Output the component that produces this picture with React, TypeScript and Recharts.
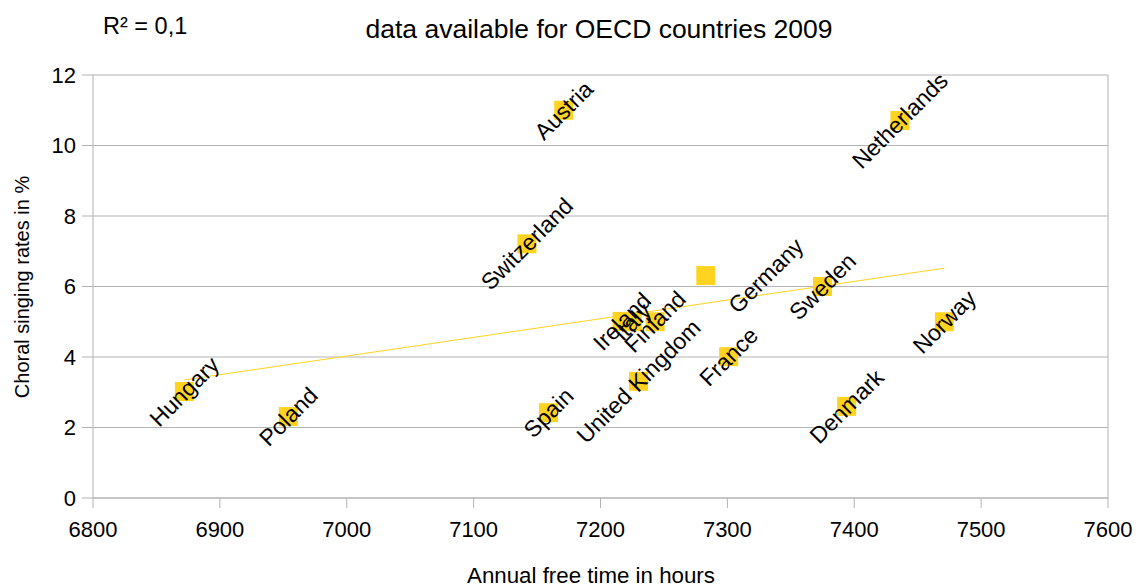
import { ScatterChart, Scatter, XAxis, YAxis, CartesianGrid, ReferenceLine } from "recharts";

const countries = ["Hungary", "Poland", "Switzerland", "Spain", "Austria", "Ireland", "Italy", "United Kingdom", "Finland", "Germany", "France", "Sweden", "Denmark", "Netherlands", "Norway"];
const freeHours = [6872, 6954, 7142, 7159, 7171, 7217, 7225, 7230, 7243, 7283, 7301, 7375, 7394, 7436, 7471];
const choralRates = [3.02, 2.31, 7.21, 2.42, 11.0, 5.01, 5.0, 3.31, 5.0, 6.31, 4.01, 6.0, 2.6, 10.71, 5.0];

const xTicks = [6800, 6900, 7000, 7100, 7200, 7300, 7400, 7500, 7600];
const yTicks = [0, 2, 4, 6, 8, 10, 12];

// linear trend as drawn in the original (start/end)
const trendX = [6872, 7471];
const trendY = [3.35, 6.52];

const rows = countries.map((name, i) => ({ name, x: freeHours[i], y: choralRates[i] }));

const FONT = "'Liberation Sans', Arial, sans-serif";
const YELLOW = "#ffd320";
const GRID = "#b3b3b3";

// Germany's label sits to the right of its marker in the original
const labelShift: Record<string, number> = { Germany: 60 };

const Square = (props: any) => {
  const { cx, cy } = props;
  return <rect x={cx - 9.5} y={cy - 9.5} width={19} height={19} fill={YELLOW} />;
};

const CountryLabel = (props: any) => {
  const { cx, cy, payload } = props;
  const x = cx + (labelShift[payload.name] || 0);
  return (
    <text
      x={x}
      y={cy}
      transform={`rotate(-45 ${x} ${cy})`}
      textAnchor="middle"
      dominantBaseline="central"
      fontSize={23}
      fontFamily={FONT}
      fill="#000"
    >
      {payload.name}
    </text>
  );
};

export default function App() {
  const tickStyle = { fill: "#000", fontSize: 22, fontFamily: FONT };
  return (
    <div style={{ position: "absolute", left: 0, top: 0, width: 1138, height: 586, background: "#fff" }}>
      <ScatterChart width={1138} height={586} margin={{ top: 75, right: 30, bottom: 48, left: 0 }}>
        <CartesianGrid horizontal vertical={false} stroke={GRID} />
        <XAxis
          type="number"
          dataKey="x"
          domain={[6800, 7600]}
          ticks={xTicks}
          interval={0}
          height={40}
          stroke={GRID}
          tickSize={10}
          tickMargin={13}
          tick={tickStyle}
        />
        <YAxis
          type="number"
          dataKey="y"
          domain={[0, 12]}
          ticks={yTicks}
          interval={0}
          width={93}
          stroke={GRID}
          tickSize={11}
          tickMargin={6}
          tick={tickStyle}
        />
        <ReferenceLine x={7600} stroke={GRID} />
        <Scatter data={rows} shape={Square} isAnimationActive={false} />
        <ReferenceLine
          segment={[{ x: trendX[0], y: trendY[0] }, { x: trendX[1], y: trendY[1] }]}
          stroke={YELLOW}
          strokeWidth={1}
        />
        <Scatter data={rows} shape={CountryLabel} isAnimationActive={false} />
      </ScatterChart>
      <svg width={1138} height={586} style={{ position: "absolute", left: 0, top: 0, pointerEvents: "none" }}>
        <text x={103} y={34} fontSize={23.5} fontFamily={FONT} fill="#000">R² = 0,1</text>
        <text x={599} y={38} fontSize={26.5} fontFamily={FONT} fill="#000" textAnchor="middle">
          data available for OECD countries 2009
        </text>
        <text x={591} y={583} fontSize={22.3} fontFamily={FONT} fill="#000" textAnchor="middle">
          Annual free time in hours
        </text>
        <text
          x={22}
          y={287}
          fontSize={20}
          fontFamily={FONT}
          fill="#000"
          textAnchor="middle"
          dominantBaseline="central"
          transform="rotate(-90 22 287)"
        >
          Choral singing rates in %
        </text>
      </svg>
    </div>
  );
}
